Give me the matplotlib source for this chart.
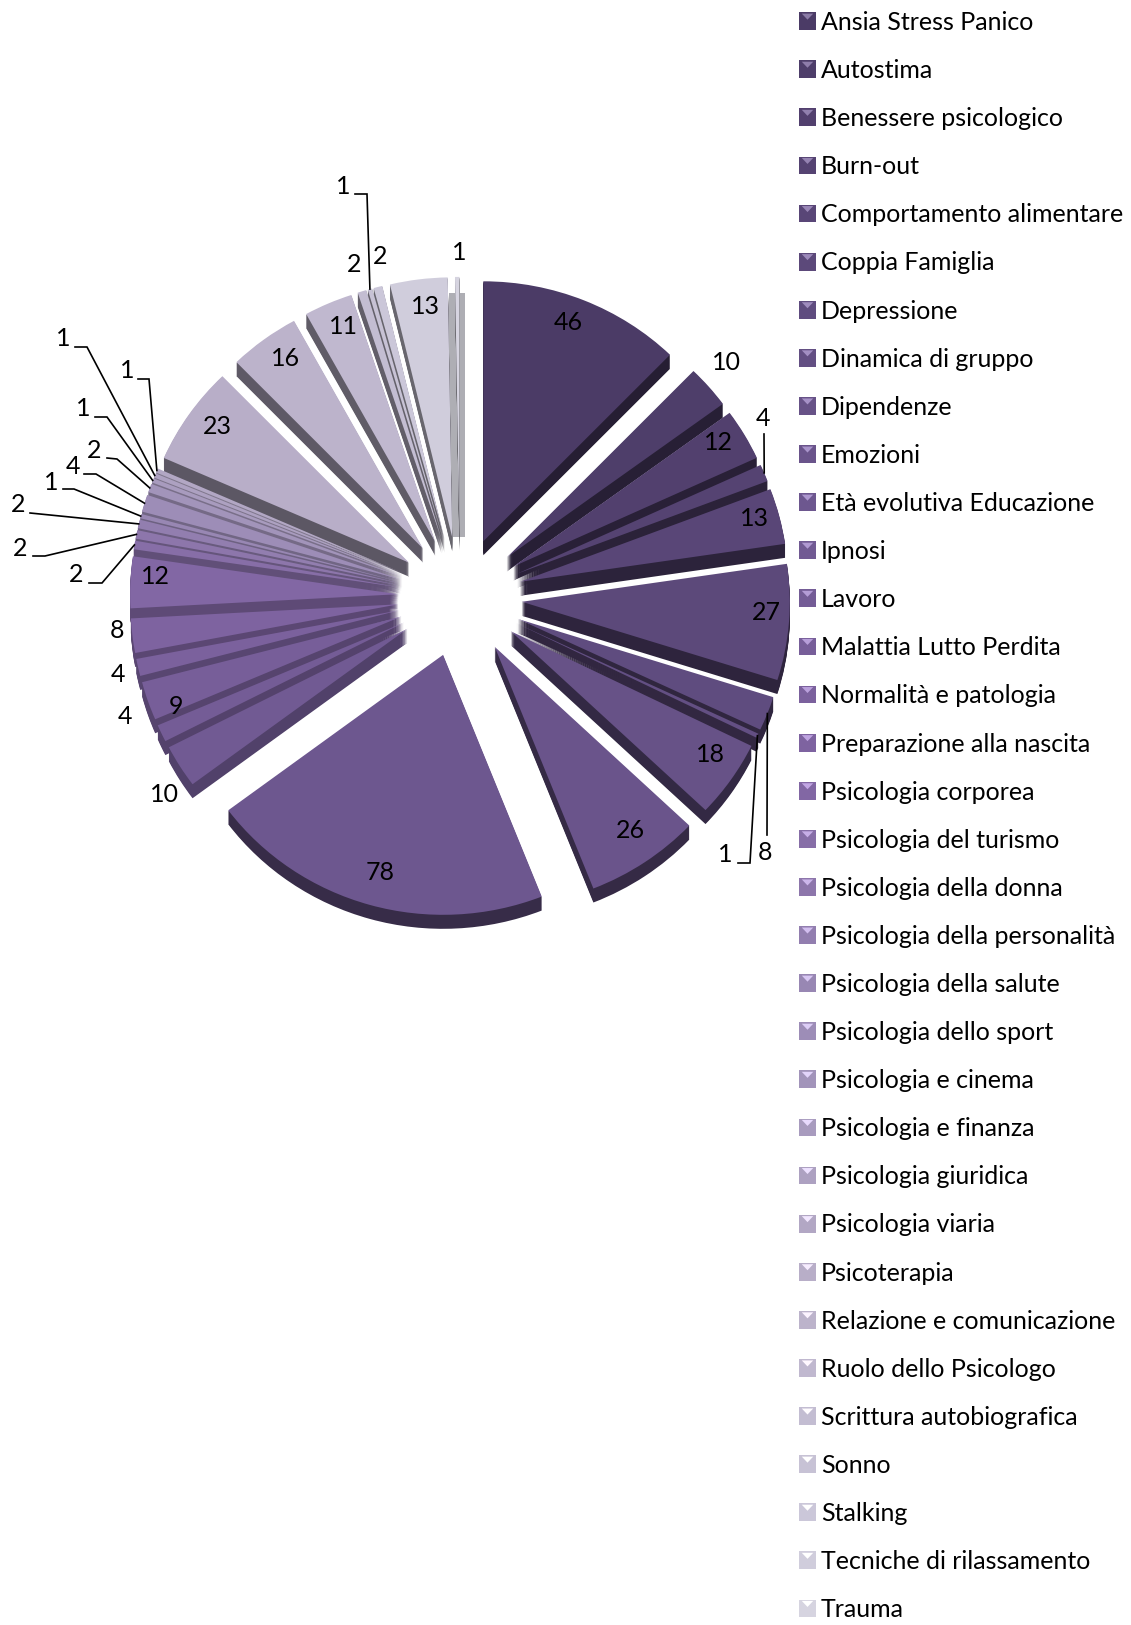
import math

import matplotlib
matplotlib.use("Agg")
import matplotlib.pyplot as plt
from matplotlib.colors import LinearSegmentedColormap, to_rgb
from matplotlib.legend_handler import HandlerBase
from matplotlib.patches import Patch, Polygon, Rectangle, Wedge
from matplotlib.transforms import Affine2D

plt.rcParams["font.family"] = ["Lato", "DejaVu Sans"]

categories = [
    "Ansia Stress Panico", "Autostima", "Benessere psicologico", "Burn-out",
    "Comportamento alimentare", "Coppia Famiglia", "Depressione", "Dinamica di gruppo",
    "Dipendenze", "Emozioni", "Età evolutiva Educazione", "Ipnosi", "Lavoro",
    "Malattia Lutto Perdita", "Normalità e patologia", "Preparazione alla nascita",
    "Psicologia corporea", "Psicologia del turismo", "Psicologia della donna",
    "Psicologia della personalità", "Psicologia della salute", "Psicologia dello sport",
    "Psicologia e cinema", "Psicologia e finanza", "Psicologia giuridica",
    "Psicologia viaria", "Psicoterapia", "Relazione e comunicazione",
    "Ruolo dello Psicologo", "Scrittura autobiografica", "Sonno", "Stalking",
    "Tecniche di rilassamento", "Trauma",
]
values = [46, 10, 12, 4, 13, 27, 8, 1, 18, 26, 78, 10, 4, 9, 4, 8, 12,
          2, 2, 2, 1, 4, 2, 1, 1, 1, 23, 16, 11, 2, 1, 2, 13, 1]

# label text position in image pixels, one per slice
label_xy = [
    (568, 323), (726, 363), (718, 443), (763, 419), (754, 518), (766, 613), (765, 852),
    (725, 854), (710, 755), (630, 831), (380, 872), (164, 794), (125, 717), (176, 706),
    (118, 675), (117, 631), (155, 577), (76, 575), (20, 548), (18, 505), (51, 483),
    (73, 467), (94, 451), (83, 409), (63, 339), (127, 371), (217, 427), (286, 359),
    (343, 327), (354, 265), (343, 187), (380, 257), (425, 306), (459, 253),
]
# slice index -> elbow points of the leader line (image pixels)
leaders = {
    3: [(764, 434)],
    6: [(767, 835)],
    7: [(738, 863), (750, 863)],
    17: [(89, 583), (102, 583)],
    18: [(33, 556), (45, 556)],
    19: [(30, 513)],
    20: [(63, 489), (74, 489)],
    21: [(84, 474), (96, 474)],
    22: [(107, 458), (117, 459)],
    23: [(95, 417), (107, 417)],
    24: [(75, 347), (87, 347)],
    25: [(138, 379), (149, 379)],
    30: [(355, 194), (367, 194)],
}

W, H = 1131, 1625
CX, CY = 460, 597
RADIUS = 268
EXPLODE = 62
TILT = 0.97
DEPTH = 14
FS = 18

cmap = LinearSegmentedColormap.from_list(
    "purples",
    [(0.0, "#4b3b66"), (0.3, "#6d578f"), (0.48, "#8165a3"), (0.62, "#9a8ab5"),
     (0.79, "#b8aec8"), (0.97, "#cfccdc"), (1.0, "#d6d4e0")],
)
colors = [cmap(i / (len(values) - 1)) for i in range(len(values))]


def darker(k):
    # the left hand slices have a much softer side face in the original
    f = 0.72 if 11 <= k <= 25 else 0.5
    return tuple(x * f for x in to_rgb(colors[k]))


def py(y):
    return H - y


class EnvelopeHandler(HandlerBase):
    # small square with a lighter fold on top, like the original bevel marker
    def create_artists(self, legend, orig, xd, yd, width, height, fontsize, trans):
        col = orig.get_facecolor()
        box = Rectangle((-xd, -yd - 1), width, height + 2, facecolor=col, edgecolor="none", transform=trans)
        light = tuple(min(1, x + 0.25) for x in to_rgb(col))
        fold = Polygon(
            [(-xd + 2, -yd + height), (-xd + width - 2, -yd + height), (-xd + width / 2, -yd + height * 0.6)],
            closed=True, facecolor=light, edgecolor="none", transform=trans,
        )
        return [box, fold]


fig = plt.figure(figsize=(W / 100, H / 100), dpi=100)
ax = fig.add_axes([0, 0, 1, 1])

wedges, _ = ax.pie(
    values,
    startangle=90,
    counterclock=False,
    radius=RADIUS,
    explode=[EXPLODE] * len(values),
    colors=colors,
    wedgeprops={"linewidth": 0},
)
ax.set_aspect("auto")
ax.set_xlim(0, W)
ax.set_ylim(0, H)

base = Affine2D().scale(1, TILT).translate(CX, py(CY))
order = sorted(range(len(wedges)), key=lambda k: -wedges[k].center[1])
for z, k in enumerate(order):
    w = wedges[k]
    for j in range(DEPTH, 0, -1):
        side = Wedge(w.center, w.r, w.theta1, w.theta2, facecolor=darker(k), linewidth=0, zorder=2 + z)
        side.set_transform(base + Affine2D().translate(0, -j) + ax.transData)
        ax.add_patch(side)
    w.set_transform(base + ax.transData)
    w.set_zorder(2 + z + 0.5)

# the last thin slice sits on a flat grey band in the original
last = wedges[-1]
ax.add_patch(Rectangle(
    (CX + last.center[0] - 10, py(CY) + TILT * last.center[1]),
    16, TILT * last.r - 16,
    facecolor="#aeaeb4", linewidth=0, zorder=1,
))


def rim_point(k):
    w = wedges[k]
    a = math.radians((w.theta1 + w.theta2) / 2)
    x = w.center[0] + w.r * math.cos(a)
    y = w.center[1] + w.r * math.sin(a)
    return CX + x, py(CY) + TILT * y


for k, val in enumerate(values):
    x, y = label_xy[k]
    ax.text(x, py(y), str(val), ha="center", va="center", fontsize=FS, color="black", zorder=100)
    if k in leaders:
        pts = [(a, py(b)) for a, b in leaders[k]] + [rim_point(k)]
        ax.plot(*zip(*pts), color="black", lw=1.2, zorder=99, solid_joinstyle="miter")

handles = [Patch(facecolor=c, label=n) for c, n in zip(colors, categories)]
fig.legend(
    handles=handles,
    loc="upper left",
    bbox_to_anchor=(799 / W, 1 - 11 / H),
    frameon=False,
    fontsize=FS,
    handlelength=0.68,
    handleheight=0.55,
    handletextpad=0.2,
    labelspacing=1.004,
    borderpad=0,
    borderaxespad=0,
    handler_map={Patch: EnvelopeHandler()},
)

fig.savefig("out.png", dpi=100)
